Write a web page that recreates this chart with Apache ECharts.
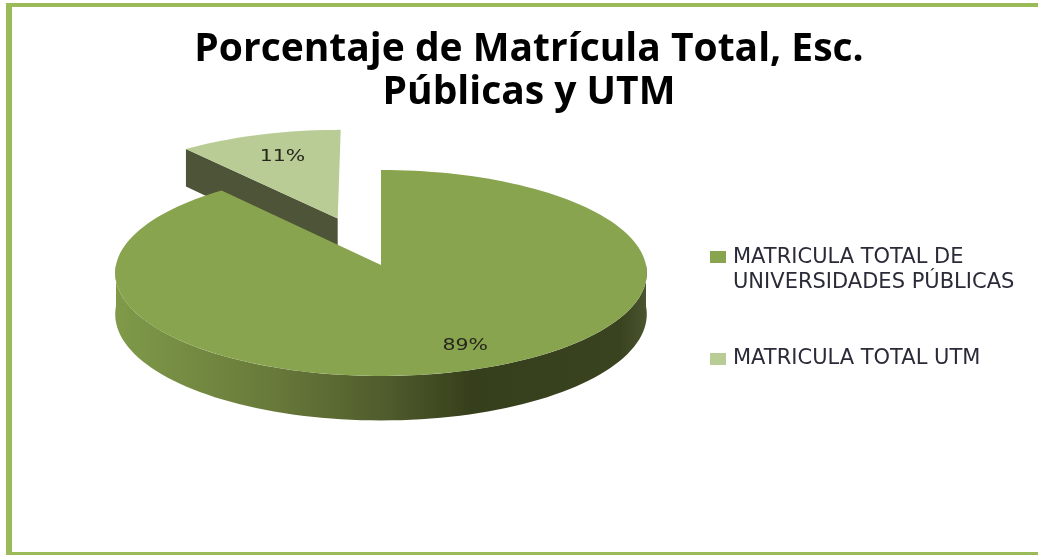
<!DOCTYPE html>
<html>
<head>
<meta charset="utf-8">
<style>html,body{margin:0;padding:0;background:#fff}#c{width:1038px;height:555px}</style>
<script src="https://cdn.jsdelivr.net/npm/echarts@6/dist/echarts.min.js"></script>
</head>
<body>
<div id="c"></div>
<script>
const titleText = 'Porcentaje de Matrícula Total, Esc.\nPúblicas y UTM';
const categories = ['MATRICULA TOTAL DE\nUNIVERSIDADES PÚBLICAS', 'MATRICULA TOTAL UTM'];
const values = [89, 11];
const labels = ['89%', '11%'];
const colors = ['#88a44e', '#b9cc95'];

const total = values.reduce((a, b) => a + b, 0);
const CX = 381, CY = 265, A = 265, B = 102.4, K = 0.0775, DEPTH = 41, STEP = 2;

function project(u, v, z) {
  const w = 1 + K * v;
  return [CX + A * u / w, CY - B * v / w + (z ? DEPTH / w : 0)];
}
function pt(deg, r, ex, ey, z) {
  const t = deg * Math.PI / 180;
  return project(r * Math.sin(t) + ex, r * Math.cos(t) + ey, z);
}
function arc(a0, a1, ex, ey, z) {
  const out = [];
  const n = Math.max(2, Math.ceil(Math.abs(a1 - a0) / STEP));
  for (let i = 0; i <= n; i++) out.push(pt(a0 + (a1 - a0) * i / n, 1, ex, ey, z));
  return out;
}
const sideGradient = new echarts.graphic.LinearGradient(0, 0, 1, 0, [
  { offset: 0, color: '#7f9a49' },
  { offset: 0.3, color: '#68793a' },
  { offset: 0.52, color: '#4e5a2b' },
  { offset: 0.67, color: '#363f1b' },
  { offset: 0.95, color: '#39431f' },
  { offset: 1, color: '#4a5530' }
]);

function sliceRenderer(index) {
  return function () {
    let start = 0;
    for (let i = 0; i < index; i++) start += values[i];
    const a0 = start / total * 360;
    const a1 = (start + values[index]) / total * 360;
    const exploded = index === 1;
    const mid = (a0 + a1) / 2 * Math.PI / 180;
    const ex = exploded ? 0.5 * Math.sin(mid) : 0;
    const ey = exploded ? 0.5 * Math.cos(mid) : 0;
    const children = [];
    if (exploded) {
      const rim = pt(a0, 1, ex, ey, false);
      const rimLow = pt(a0, 1, ex, ey, true);
      const apex = project(ex, ey, false);
      const apexLow = project(ex, ey, true);
      children.push({ type: 'polygon', shape: { points: [rim, apex, apexLow, rimLow] },
        style: { fill: '#4d5438' } });
    } else {
      const top = arc(90, 270, 0, 0, false);
      const low = arc(270, 90, 0, 0, true);
      children.push({ type: 'polygon', shape: { points: top.concat(low) },
        style: { fill: sideGradient } });
    }
    const face = [project(ex, ey, false)].concat(arc(a0, a1, ex, ey, false));
    children.push({ type: 'polygon', shape: { points: face }, style: { fill: colors[index] } });
    const lp = pt((a0 + a1) / 2, exploded ? 0.72 : 0.8, ex, ey, false);
    children.push({
      type: 'text', x: lp[0] + (exploded ? 2 : 8), y: lp[1] - (exploded ? 0 : 1), scaleX: 1.32,
      style: { text: labels[index], fill: '#26261c', font: '15.5px "DejaVu Sans"', align: 'center', verticalAlign: 'middle' }
    });
    return { type: 'group', children };
  };
}

const chart = echarts.init(document.getElementById('c'), null, { renderer: 'canvas' });
chart.setOption({
  animation: false,
  backgroundColor: '#ffffff',
  title: {
    text: titleText, left: 524, top: 23, textAlign: 'center',
    textStyle: { fontFamily: '"Open Sans"', fontWeight: 700, fontSize: 39, lineHeight: 43, color: '#000000' }
  },
  legend: {
    orient: 'vertical', left: 705, top: 240, itemWidth: 16, itemHeight: 50, itemGap: 39,
    selectedMode: false,
    textStyle: { fontFamily: '"DejaVu Sans"', fontSize: 21, lineHeight: 25, color: '#2a2a38', padding: [0, 0, 0, 2] },
    data: [
      { name: categories[0], icon: 'path://M0 6h16v12h-16zM0 0h0zM0 50h0z' },
      { name: categories[1], icon: 'path://M0 19h16v12h-16zM0 0h0zM0 50h0z' }
    ]
  },
  graphic: [
    { type: 'rect', shape: { x: 6, y: 3, width: 1032, height: 4 }, style: { fill: '#9bbb59' }, silent: true },
    { type: 'rect', shape: { x: 6, y: 3, width: 6, height: 552 }, style: { fill: '#9bbb59' }, silent: true },
    { type: 'rect', shape: { x: 6, y: 552, width: 1032, height: 3 }, style: { fill: '#9bbb59' }, silent: true }
  ],
  series: [
    { type: 'custom', name: categories[1], coordinateSystem: 'none', z: 2, silent: true,
      itemStyle: { color: colors[1] }, data: [values[1]], renderItem: sliceRenderer(1) },
    { type: 'custom', name: categories[0], coordinateSystem: 'none', z: 3, silent: true,
      itemStyle: { color: colors[0] }, data: [values[0]], renderItem: sliceRenderer(0) }
  ]
});
</script>
</body>
</html>
